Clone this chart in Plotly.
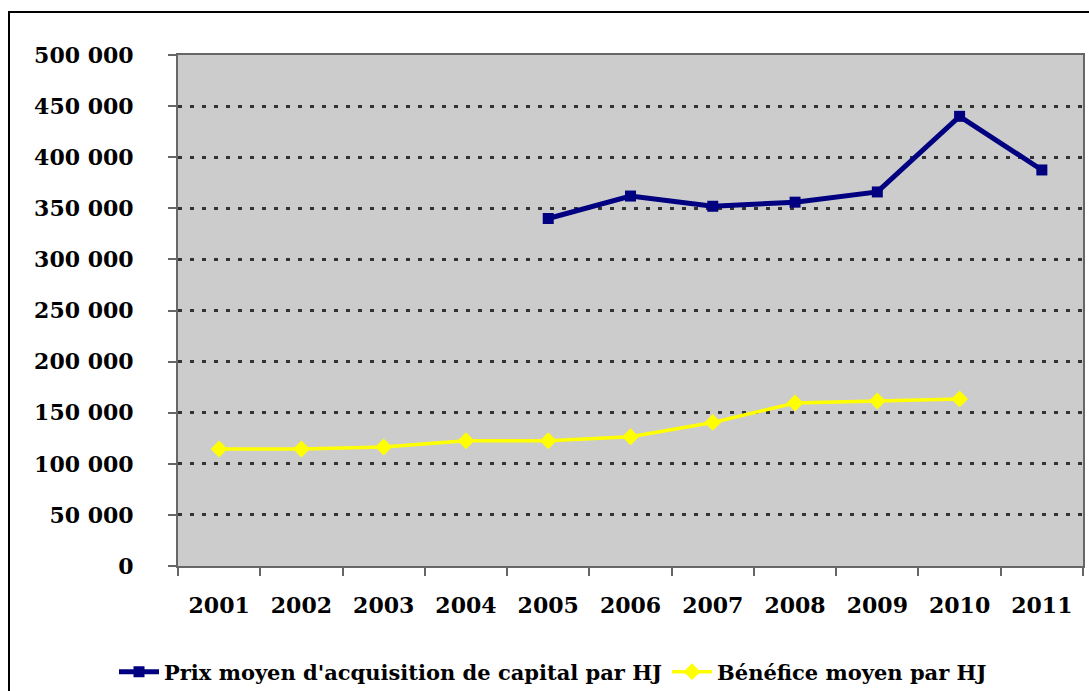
import plotly.graph_objects as go

years = ["2001", "2002", "2003", "2004", "2005", "2006", "2007", "2008", "2009", "2010", "2011"]

prix_years = ["2005", "2006", "2007", "2008", "2009", "2010", "2011"]
prix_values = [340000, 362000, 352000, 356000, 366000, 440000, 387500]

benefice_years = ["2001", "2002", "2003", "2004", "2005", "2006", "2007", "2008", "2009", "2010"]
benefice_values = [114500, 114500, 116500, 122500, 122500, 126500, 140500, 159500, 161500, 163500]

y_ticks = [0, 50000, 100000, 150000, 200000, 250000, 300000, 350000, 400000, 450000, 500000]
y_tick_labels = ["0", "50 000", "100 000", "150 000", "200 000", "250 000",
                 "300 000", "350 000", "400 000", "450 000", "500 000"]

W, H = 1089, 691
L, R, T, B = 178, 6, 55, 125
pw, ph = W - L - R, H - T - B

font_family = "DejaVu Serif"

fig = go.Figure()
fig.add_trace(go.Scatter(
    x=prix_years, y=prix_values, mode="lines+markers",
    name="Prix moyen d'acquisition de capital par HJ",
    line=dict(color="#000080", width=5),
    marker=dict(symbol="square", size=11, color="#000080"),
))
fig.add_trace(go.Scatter(
    x=benefice_years, y=benefice_values, mode="lines+markers",
    name="Bénéfice moyen par HJ",
    line=dict(color="#FFFF00", width=3.5),
    marker=dict(symbol="diamond", size=13, color="#FFFF00"),
))

# outer chart frame
fig.add_shape(type="rect", xref="paper", yref="paper",
              x0=(9 - L) / pw, x1=(W + 20 - L) / pw,
              y0=(H - B - (H + 20)) / ph, y1=(H - B - 12) / ph,
              line=dict(color="black", width=2), layer="below")

fig.update_layout(
    width=W, height=H,
    margin=dict(l=L, r=R, t=T, b=B, autoexpand=False),
    paper_bgcolor="white",
    plot_bgcolor="#CCCCCC",
    font=dict(family=font_family, color="black"),
    showlegend=True,
    legend=dict(
        orientation="h", x=(114 - L) / pw, xanchor="left",
        y=(H - B - 672) / ph, yanchor="middle",
        font=dict(family=font_family, size=21, color="black", weight="bold"),
        bgcolor="rgba(0,0,0,0)", itemwidth=40, tracegroupgap=0,
    ),
    xaxis=dict(
        type="category", categoryorder="array", categoryarray=years,
        range=[-0.5, len(years) - 0.5],
        tickson="boundaries", ticks="outside", ticklen=8, tickwidth=2, tickcolor="#666666",
        showline=True, linecolor="#666666", linewidth=2, mirror=True,
        showgrid=False, zeroline=False,
        tickfont=dict(family=font_family, size=22, color="black", weight="bold"),
        ticklabelstandoff=19,
    ),
    yaxis=dict(
        range=[0, 500000], tickmode="array", tickvals=y_ticks, ticktext=y_tick_labels,
        ticks="outside", ticklen=8, tickwidth=2, tickcolor="#666666",
        showline=True, linecolor="#666666", linewidth=2, mirror=True,
        showgrid=True, gridcolor="#333333", gridwidth=2.5, griddash="4px,8px",
        zeroline=False,
        tickfont=dict(family=font_family, size=22, color="black", weight="bold"),
        ticklabelstandoff=30,
    ),
)

fig.write_html("out.html")
